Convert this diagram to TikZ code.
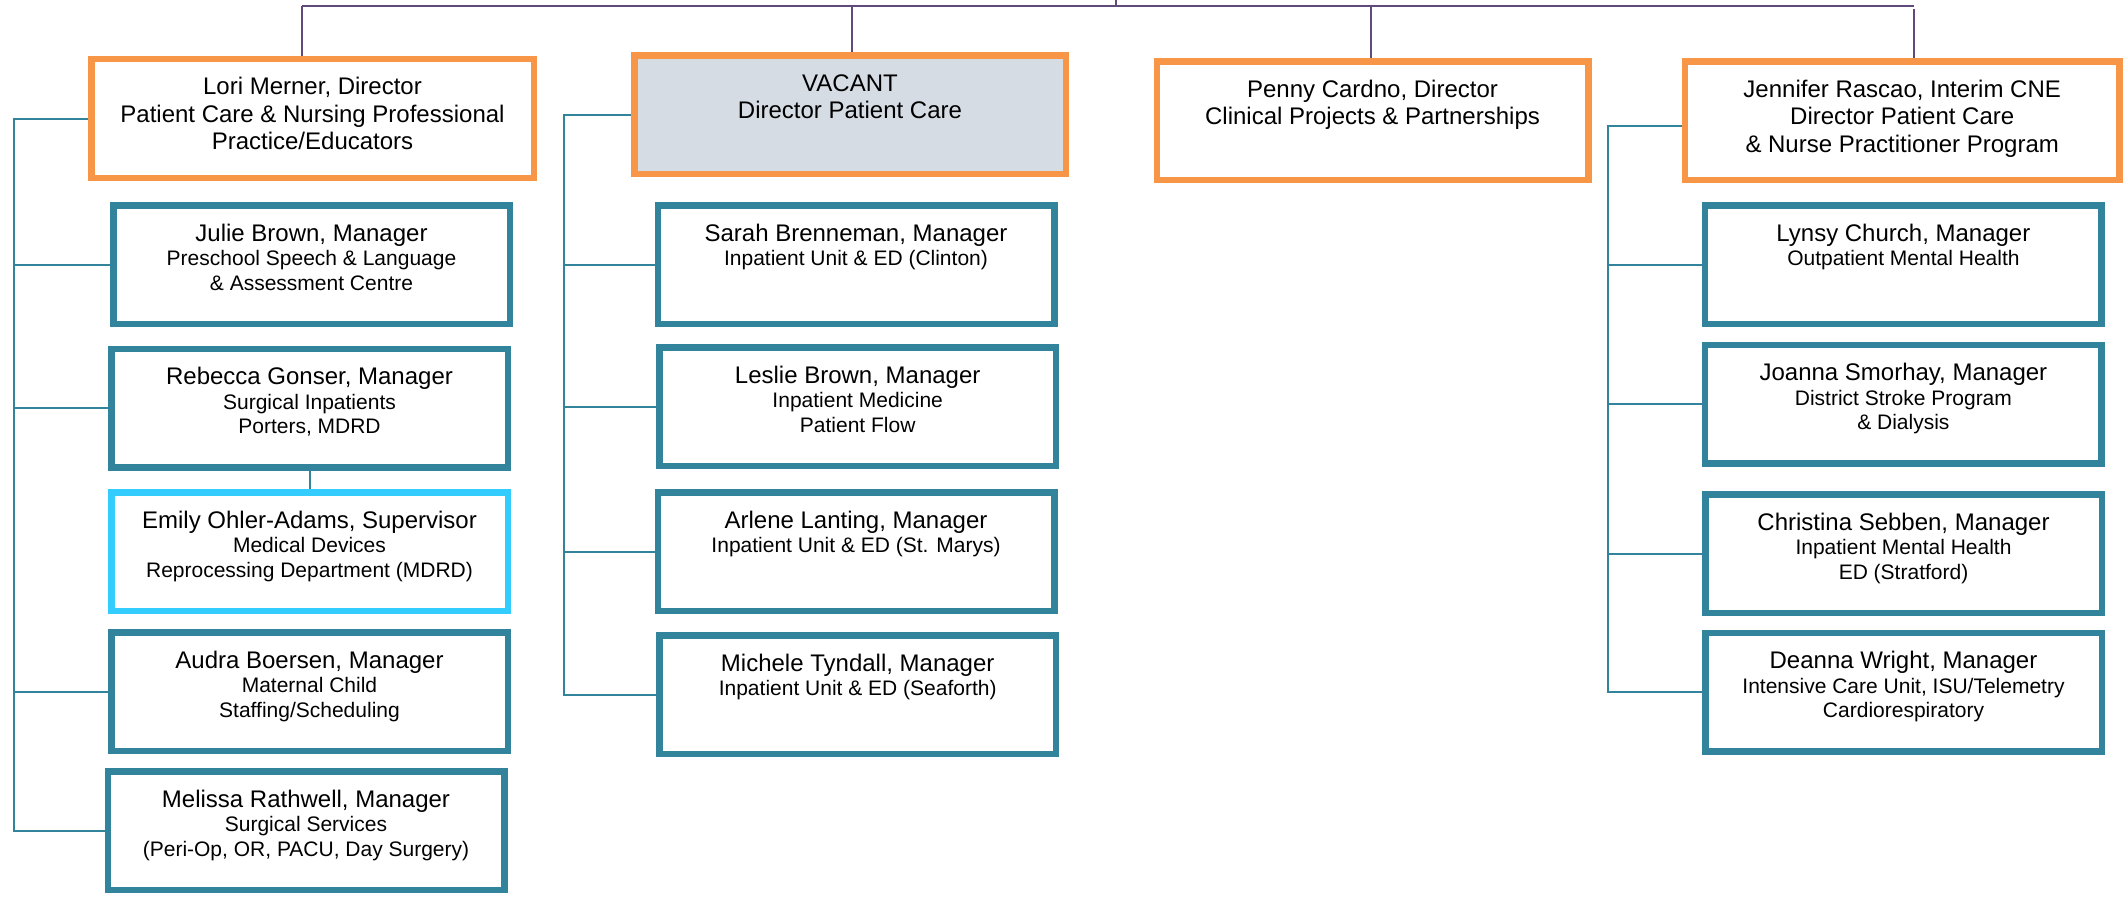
\documentclass[tikz,border=0pt]{standalone}
\usepackage{fontspec}
\setmainfont{Liberation Sans}
\definecolor{dirorange}{HTML}{F79646}
\definecolor{mgrteal}{HTML}{31849B}
\definecolor{supblue}{HTML}{33CCFF}
\definecolor{vacgray}{HTML}{D6DCE4}
\definecolor{toppurple}{HTML}{604A7B}
\newcommand{\dirtext}[1]{\parbox[c][118pt][t]{430pt}{\centering\fontsize{24}{27.5}\selectfont\rule{0pt}{35.3pt}#1\par}}
\newcommand{\mgrtext}[2]{\parbox[c][118pt][t]{390pt}{\centering\fontsize{24}{25}\selectfont\rule{0pt}{35.5pt}#1\par\fontsize{21}{24.5}\selectfont #2\par}}
\begin{document}
\begin{tikzpicture}[x=1pt,y=-1pt,inner sep=0pt,outer sep=0pt,
dirblock/.style={draw=dirorange,rectangle,line width=6.5pt,outer sep=3.25pt,minimum height=118.5pt,fill=white},
mgrblock/.style={draw=mgrteal,rectangle,line width=6.5pt,outer sep=3.25pt,minimum width=396.5pt,minimum height=118.5pt},
supblock/.style={mgrblock,draw=supblue},
link/.style={draw=mgrteal,line width=2pt},
toplink/.style={draw=toppurple,line width=2pt}]
\useasboundingbox (0,0) rectangle (2125,899);
\draw (312.5,118.5) node[dirblock,minimum width=442.5pt] (lori) {\dirtext{Lori Merner, Director\\Patient Care \& Nursing Professional\\Practice/Educators}};
\draw (850,114.8) node[dirblock,fill=vacgray,minimum width=431.5pt] (vacant) {\dirtext{VACANT\\Director Patient Care}};
\draw (1372.5,120.8) node[dirblock,minimum width=431.5pt] (penny) {\dirtext{Penny Cardno, Director\\Clinical Projects \& Partnerships}};
\draw (1902.2,120.8) node[dirblock,minimum width=434.5pt] (jennifer) {\dirtext{Jennifer Rascao, Interim CNE\\Director Patient Care\\\& Nurse Practitioner Program}};
\draw (311.5,264.5) node[mgrblock] (julie) {\mgrtext{Julie Brown, Manager}{Preschool Speech \& Language\\\& Assessment Centre}};
\draw (309.5,408.2) node[mgrblock] (rebecca) {\mgrtext{Rebecca Gonser, Manager}{Surgical Inpatients\\Porters, MDRD}};
\draw (309.5,551.8) node[supblock] (emily) {\mgrtext{Emily Ohler-Adams, Supervisor}{Medical Devices\\Reprocessing Department (MDRD)}};
\draw (309.5,691.8) node[mgrblock] (audra) {\mgrtext{Audra Boersen, Manager}{Maternal Child\\Staffing/Scheduling}};
\draw (306,830.8) node[mgrblock] (melissa) {\mgrtext{Melissa Rathwell, Manager}{Surgical Services\\(Peri-Op, OR, PACU, Day Surgery)}};
\draw (856,264.5) node[mgrblock] (sarah) {\mgrtext{Sarah Brenneman, Manager}{Inpatient Unit \& ED (Clinton)}};
\draw (857.7,406.8) node[mgrblock] (leslie) {\mgrtext{Leslie Brown, Manager}{Inpatient Medicine\\Patient Flow}};
\draw (856,551.8) node[mgrblock] (arlene) {\mgrtext{Arlene Lanting, Manager}{Inpatient Unit \& ED (St. Marys)}};
\draw (857.7,694.8) node[mgrblock] (michele) {\mgrtext{Michele Tyndall, Manager}{Inpatient Unit \& ED (Seaforth)}};
\draw (1903.4,264.5) node[mgrblock] (lynsy) {\mgrtext{Lynsy Church, Manager}{Outpatient Mental Health}};
\draw (1903.4,404.2) node[mgrblock] (joanna) {\mgrtext{Joanna Smorhay, Manager}{District Stroke Program\\\& Dialysis}};
\draw (1903.5,553.7) node[mgrblock] (christina) {\mgrtext{Christina Sebben, Manager}{Inpatient Mental Health\\ED (Stratford)}};
\draw (1903.5,692.2) node[mgrblock] (deanna) {\mgrtext{Deanna Wright, Manager}{Intensive Care Unit, ISU/Telemetry\\Cardiorespiratory}};
\coordinate (parent) at (1116,0);
\coordinate (dropL) at (302,5.7);
\coordinate (dropV) at (852,5.7);
\coordinate (dropP) at (1370.7,5.7);
\coordinate (barR) at (1914,5.7);
\coordinate (dropJ) at (1913.7,9.3);
\coordinate (spineL) at (14,0);
\coordinate (spineM) at (564.3,0);
\coordinate (spineR) at (1608,0);
\draw[toplink] (dropL) -- (barR);
\draw[toplink] (parent) -- (parent |- dropL);
\draw[toplink] (dropL) -- (dropL |- lori.north);
\draw[toplink] (dropV) -- (dropV |- vacant.north);
\draw[toplink] (dropP) -- (dropP |- penny.north);
\draw[toplink] (dropJ) -- (dropJ |- jennifer.north);
\draw[link] (lori.west) -- (lori.west -| spineL) -- (melissa.west -| spineL) -- (melissa.west);
\foreach \n in {julie,rebecca,audra} \draw[link] (\n.west) -- (\n.west -| spineL);
\draw[link] (rebecca.south) -- (emily.north);
\draw[link] (vacant.west) -- (vacant.west -| spineM) -- (michele.west -| spineM) -- (michele.west);
\foreach \n in {sarah,leslie,arlene} \draw[link] (\n.west) -- (\n.west -| spineM);
\draw[link] ([yshift=-5pt]jennifer.west) -- ([yshift=-5pt]jennifer.west -| spineR) -- (deanna.west -| spineR) -- (deanna.west);
\foreach \n in {lynsy,joanna,christina} \draw[link] (\n.west) -- (\n.west -| spineR);
\end{tikzpicture}
\end{document}
